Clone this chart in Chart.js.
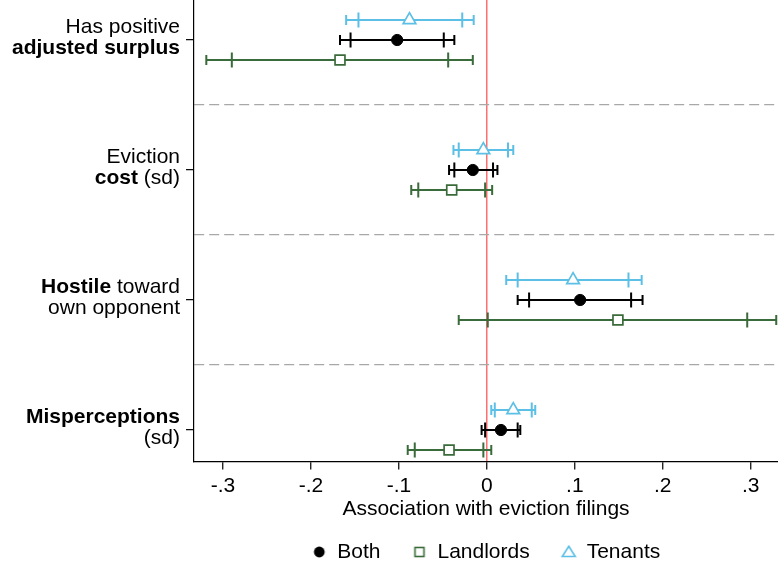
<!DOCTYPE html>
<html>
<head>
<meta charset="utf-8">
<title>Association with eviction filings</title>
<script src="https://cdn.jsdelivr.net/npm/chart.js@4.4.1/dist/chart.umd.min.js"></script>
<style>
  html, body { margin: 0; padding: 0; background: #ffffff; }
  canvas { display: block; }
</style>
</head>
<body>
<canvas id="chart" width="778" height="566"></canvas>
<script>
// Row labels, one entry per predictor: two lines, each a list of [text, bold] pieces
const categories = [
  [[['Has positive', false]], [['adjusted surplus', true]]],
  [[['Eviction', false]], [['cost', true], [' (sd)', false]]],
  [[['Hostile', true], [' toward', false]], [['own opponent', false]]],
  [[['Misperceptions', true]], [['(sd)', false]]]
];

const seriesNames = ['Both', 'Landlords', 'Tenants'];

// Point estimates with 95% (outer caps) and 90% (inner ticks) intervals
const bothEst   = [-0.102, -0.016, 0.106,  0.016];
const bothLo95  = [-0.167, -0.043, 0.035, -0.006];
const bothHi95  = [-0.037,  0.012, 0.177,  0.038];
const bothLo90  = [-0.155, -0.037, 0.048, -0.002];
const bothHi90  = [-0.049,  0.007, 0.164,  0.035];

const landlordsEst  = [-0.167, -0.040,  0.149, -0.043];
const landlordsLo95 = [-0.319, -0.086, -0.032, -0.090];
const landlordsHi95 = [-0.016,  0.006,  0.329,  0.005];
const landlordsLo90 = [-0.290, -0.078,  0.001, -0.082];
const landlordsHi90 = [-0.044, -0.002,  0.296, -0.004];

const tenantsEst  = [-0.088, -0.004, 0.098, 0.030];
const tenantsLo95 = [-0.160, -0.038, 0.022, 0.005];
const tenantsHi95 = [-0.015,  0.030, 0.176, 0.055];
const tenantsLo90 = [-0.146, -0.032, 0.035, 0.009];
const tenantsHi90 = [-0.028,  0.024, 0.161, 0.051];

const xTickValues = [-0.3, -0.2, -0.1, 0, 0.1, 0.2, 0.3];
const xTickLabels = ['-.3', '-.2', '-.1', '0', '.1', '.2', '.3'];
const xTitle = 'Association with eviction filings';

// ---- styling ----
const FONT = '"Liberation Sans", Arial, Helvetica, sans-serif';
const BLACK = '#000000';
const GREEN = '#3a6b3a';
const BLUE = '#5bbfe6';
const ZERO_RED = '#ff6f6f';
const SEP_GRAY = '#a8a8a8';
const ROW_SHIFT = 0.154;

Chart.defaults.font.family = FONT;
Chart.defaults.font.size = 21;
Chart.defaults.color = BLACK;

function series(label, est, lo95, hi95, lo90, hi90, shift, style) {
  return Object.assign({
    label: label,
    data: est.map((v, i) => ({ x: v, y: i + 1 + shift })),
    ci: { lo95, hi95, lo90, hi90, shift },
    showLine: false
  }, style);
}

const datasets = [
  series(seriesNames[0], bothEst, bothLo95, bothHi95, bothLo90, bothHi90, 0, {
    barColor: BLACK, pointStyle: 'circle', pointRadius: 5.6,
    backgroundColor: BLACK, borderColor: BLACK, borderWidth: 1
  }),
  series(seriesNames[1], landlordsEst, landlordsLo95, landlordsHi95, landlordsLo90, landlordsHi90, ROW_SHIFT, {
    barColor: GREEN, pointStyle: 'rect', pointRadius: 7,
    backgroundColor: '#ffffff', borderColor: GREEN, borderWidth: 1.7
  }),
  series(seriesNames[2], tenantsEst, tenantsLo95, tenantsHi95, tenantsLo90, tenantsHi90, -ROW_SHIFT, {
    barColor: BLUE, pointStyle: 'triangle', pointRadius: 7.3,
    backgroundColor: '#ffffff', borderColor: BLUE, borderWidth: 1.7
  })
];

// Small legend swatches
function swatch(draw) {
  const c = document.createElement('canvas');
  c.width = 18; c.height = 18;
  draw(c.getContext('2d'));
  return c;
}
const legendMarks = [
  swatch(g => { g.fillStyle = BLACK; g.beginPath(); g.arc(9, 9, 5.4, 0, Math.PI * 2); g.fill(); }),
  swatch(g => {
    g.fillStyle = '#ffffff'; g.fillRect(4.5, 4.5, 9, 9);
    g.strokeStyle = GREEN; g.lineWidth = 1.6; g.strokeRect(4.5, 4.5, 9, 9);
  }),
  swatch(g => {
    g.beginPath(); g.moveTo(9, 3.2); g.lineTo(15.5, 13.5); g.lineTo(2.5, 13.5); g.closePath();
    g.fillStyle = '#ffffff'; g.fill();
    g.strokeStyle = BLUE; g.lineWidth = 1.6; g.stroke();
  })
];

// Confidence intervals: line over the 95% range, end caps, and 90% ticks
const errorBars = {
  id: 'errorBars',
  beforeDatasetsDraw(chart) {
    const { ctx, scales: { x, y } } = chart;
    ctx.save();
    ctx.lineCap = 'butt';
    chart.data.datasets.forEach(ds => {
      const ci = ds.ci;
      ctx.strokeStyle = ds.barColor;
      ctx.lineWidth = 2;
      ci.lo95.forEach((lo, i) => {
        const py = y.getPixelForValue(i + 1 + ci.shift);
        const a = x.getPixelForValue(lo);
        const b = x.getPixelForValue(ci.hi95[i]);
        const c = x.getPixelForValue(ci.lo90[i]);
        const d = x.getPixelForValue(ci.hi90[i]);
        ctx.beginPath();
        ctx.moveTo(a, py); ctx.lineTo(b, py);
        [a, b].forEach(px => { ctx.moveTo(px, py - 5); ctx.lineTo(px, py + 5); });
        [c, d].forEach(px => { ctx.moveTo(px, py - 7.5); ctx.lineTo(px, py + 7.5); });
        ctx.stroke();
      });
    });
    ctx.restore();
  }
};

// Row labels to the left of the y axis, mixing regular and bold pieces
const rowLabels = {
  id: 'rowLabels',
  afterDraw(chart) {
    const { ctx, scales: { y } } = chart;
    const right = chart.chartArea.left - 14;
    const regular = '21px ' + FONT;
    const bold = 'bold 21px ' + FONT;
    ctx.save();
    ctx.fillStyle = BLACK;
    ctx.textBaseline = 'middle';
    ctx.textAlign = 'left';
    categories.forEach((lines, i) => {
      const py = y.getPixelForValue(i + 1);
      const offsets = [-13, 8.5];
      lines.forEach((pieces, li) => {
        let total = 0;
        const widths = pieces.map(([t, b]) => { ctx.font = b ? bold : regular; const w = ctx.measureText(t).width; total += w; return w; });
        let px = right - total;
        pieces.forEach(([t, b], k) => {
          ctx.font = b ? bold : regular;
          ctx.fillText(t, px, py + offsets[li]);
          px += widths[k];
        });
      });
    });
    ctx.restore();
  }
};

const yTickValues = [];
for (let i = 1; i <= categories.length; i++) {
  yTickValues.push(i);
  if (i < categories.length) yTickValues.push(i + 0.5);
}
const isSeparator = c => c.tick && (c.tick.value % 1 !== 0);

new Chart(document.getElementById('chart'), {
  type: 'scatter',
  data: { datasets },
  plugins: [errorBars, rowLabels],
  options: {
    responsive: false,
    devicePixelRatio: 1,
    animation: false,
    events: [],
    layout: { padding: 0, autoPadding: false },
    scales: {
      x: {
        type: 'linear',
        position: 'bottom',
        min: -0.333,
        max: 0.331,
        afterBuildTicks: s => { s.ticks = xTickValues.map(v => ({ value: v })); },
        afterFit: s => { s.height = 48.5; },
        ticks: {
          callback: (v, i) => xTickLabels[i],
          padding: 4,
          color: BLACK,
          font: { size: 21 },
          maxRotation: 0,
          autoSkip: false
        },
        grid: {
          drawOnChartArea: true,
          color: c => (c.tick && c.tick.value === 0) ? ZERO_RED : 'rgba(0,0,0,0)',
          lineWidth: 1.5,
          tickColor: BLACK,
          tickLength: 8,
          tickWidth: 1.2
        },
        border: { display: true, color: BLACK, width: 1.2 },
        title: {
          display: true,
          text: xTitle,
          color: BLACK,
          font: { size: 21 },
          padding: { top: 0, bottom: -12 }
        }
      },
      y: {
        type: 'linear',
        reverse: true,
        min: 0.6923,
        max: 4.2423,
        afterBuildTicks: s => { s.ticks = yTickValues.map(v => ({ value: v })); },
        afterFit: s => { s.width = 194; },
        ticks: { display: false },
        grid: {
          drawOnChartArea: true,
          color: c => isSeparator(c) ? SEP_GRAY : 'rgba(0,0,0,0)',
          lineWidth: 1.3,
          tickColor: c => isSeparator(c) ? 'rgba(0,0,0,0)' : BLACK,
          tickLength: 8,
          tickWidth: 1.2
        },
        border: { display: true, color: BLACK, width: 1.2, dash: [10, 5] }
      }
    },
    plugins: {
      tooltip: { enabled: false },
      legend: {
        position: 'bottom',
        fullSize: false,
        maxHeight: 56,
        labels: {
          usePointStyle: true,
          boxWidth: 15,
          padding: 31.5,
          color: BLACK,
          font: { size: 21 },
          generateLabels: chart => chart.data.datasets.map((ds, i) => ({
            text: ds.label,
            pointStyle: legendMarks[i],
            fillStyle: ds.backgroundColor,
            strokeStyle: ds.borderColor,
            lineWidth: 0,
            hidden: false,
            datasetIndex: i
          }))
        }
      }
    }
  }
});
</script>
</body>
</html>
